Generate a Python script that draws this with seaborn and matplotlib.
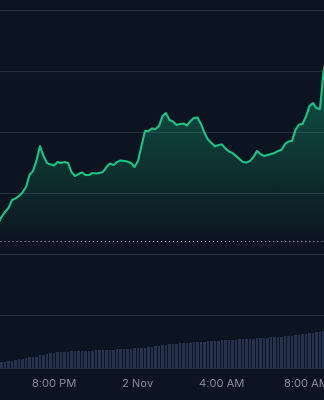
import numpy as np
import pandas as pd
import matplotlib
matplotlib.use("Agg")
import matplotlib.pyplot as plt
import matplotlib.dates as mdates
import seaborn as sns

# ---- data (10-minute samples) ----
price = [104.92, 106.07, 106.89, 107.54, 108.85, 109.10, 109.51, 110.08, 110.98, 112.95,
         113.61, 115.33, 117.70, 116.07, 114.92, 114.67, 114.51, 115.08, 114.92, 115.08,
         114.92, 113.44, 112.79, 113.11, 113.36, 112.95, 112.95, 113.28, 113.20, 113.28,
         113.44, 114.26, 114.84, 114.59, 115.08, 115.33, 115.25, 115.16, 114.92, 114.26,
         115.25, 117.70, 120.16, 120.16, 120.57, 120.49, 120.98, 122.62, 123.11, 121.97,
         121.72, 121.15, 121.31, 121.39, 121.07, 121.80, 122.30, 122.38, 121.31, 119.84,
         118.77, 118.20, 117.62, 117.87, 117.95, 117.30, 116.80, 116.56, 116.07, 115.57,
         115.08, 115.00, 115.25, 115.90, 116.89, 116.39, 116.07, 116.23, 116.39, 116.56,
         116.89, 117.05, 118.03, 118.44, 118.52, 120.33, 121.23, 121.31, 122.54, 124.26,
         124.75, 123.93, 123.77, 129.84, 132.62]
volume = [5.5, 6, 6, 7, 7.5, 8, 9, 9.5, 10.5, 11,
          11, 11.5, 13, 13.5, 14, 15, 15.5, 16, 16, 16.5,
          16.5, 17, 17, 17, 17.5, 17.5, 17.5, 17.5, 18, 18,
          18, 18.5, 18.5, 18.5, 19, 19, 19, 19.5, 19.5, 20,
          20, 20.5, 20.5, 21, 21.5, 22, 22.5, 23, 23.5, 24,
          24.5, 24.5, 25, 25, 25.5, 25.5, 26, 26, 26.5, 26.5,
          27, 27, 27.5, 27.5, 28, 28, 28.5, 28.5, 28.5, 29,
          29, 29.5, 29.5, 29.5, 30, 30, 30.5, 30.5, 31, 31,
          31.5, 31.5, 32, 32.5, 32.5, 33, 33.5, 34, 34.5, 35,
          35.5, 36, 36.5, 37, 37]
ref_price = 102.13
tick_times = ["2024-11-01 20:00", "2024-11-02 00:00", "2024-11-02 04:00", "2024-11-02 08:00"]
tick_labels = ["8:00 PM", "2 Nov", "4:00 AM", "8:00 AM"]
grid_prices = [90, 100, 110, 120, 130, 140]

times = pd.date_range("2024-11-01 17:20", periods=len(price), freq="10min")
df = pd.DataFrame({"time": times, "price": price, "volume": volume})

BG = "#0d1421"
GREEN = "#16c784"
GRID = "#2a2f3b"
TXT = "#8a8f9b"

sns.set_style("dark", {"axes.facecolor": BG, "figure.facecolor": BG})
plt.rcParams["font.family"] = ["Inter", "DejaVu Sans"]

fig = plt.figure(figsize=(3.24, 4.0), dpi=100)
fig.patch.set_facecolor(BG)
ax = fig.add_axes([0, 32 / 400, 1, 368 / 400])
ax2 = ax.twinx()
ax.set_zorder(2)
ax.patch.set_visible(False)
ax2.set_facecolor(BG)

ymin, ymax = 81.31, 141.64
xl = pd.Timestamp("2024-11-01 17:25:43")
xr = pd.Timestamp("2024-11-02 08:51:26")

# volume bars
ax2.bar(df["time"], df["volume"], width=(10 / 1440) * 0.72, color="#27324f", linewidth=0, zorder=1)
ax2.set_ylim(0, 368)
ax2.set_yticks([])
for s in ax2.spines.values():
    s.set_visible(False)

# gradient fill under the line
poly = ax.fill_between(df["time"], df["price"], ymin, color="none", linewidth=0)
xnum = mdates.date2num(df["time"])
ys = np.linspace(ymax, ymin, 400)
alpha = np.clip((ys - 101.5) / (130 - 101.5) * 0.37, 0, 0.5)
rgba = np.zeros((400, 2, 4))
rgba[..., :3] = matplotlib.colors.to_rgb(GREEN)
rgba[..., 3] = alpha[:, None]
im = ax.imshow(rgba, extent=[xnum[0], xnum[-1], ymin, ymax], aspect="auto",
               origin="upper", zorder=1, interpolation="bilinear")
im.set_clip_path(poly.get_paths()[0], transform=ax.transData)

sns.lineplot(data=df, x="time", y="price", ax=ax, color=GREEN, linewidth=1.5, zorder=3)
ax.axhline(ref_price, color="#a9adb6", linewidth=0.75, linestyle=(0, (1, 2.85)), zorder=2)

ax.set_xlim(xl, xr)
ax.set_ylim(ymin, ymax)
ax.set_yticks(grid_prices)
ax.set_yticklabels([])
ax.yaxis.grid(True, color=GRID, linewidth=0.8)
ax.xaxis.grid(False)
ax.set_xticks(pd.to_datetime(tick_times))
ax.set_xticklabels(tick_labels)
ax.tick_params(axis="x", length=0, pad=8, colors=TXT, labelsize=8)
ax.tick_params(axis="y", length=0)
ax.set_xlabel("")
ax.set_ylabel("")
for k, s in ax.spines.items():
    s.set_visible(k == "bottom")
ax.spines["bottom"].set_color(GRID)
ax.spines["bottom"].set_linewidth(0.8)

fig.savefig("out.png", dpi=100, facecolor=BG)
